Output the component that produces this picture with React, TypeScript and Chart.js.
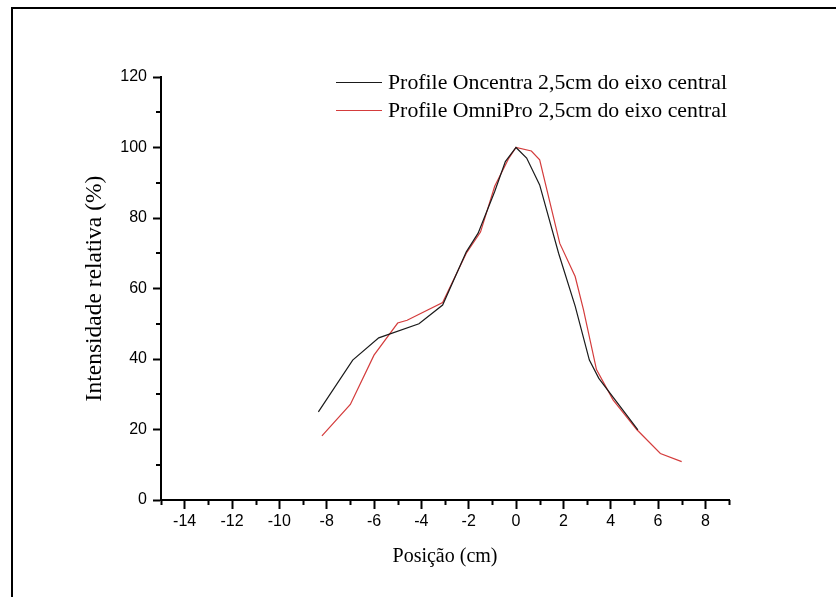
import { useEffect, useRef } from 'react';
import { Chart, registerables } from 'chart.js';

Chart.register(...registerables);

const seriesLabels = [
  'Profile Oncentra 2,5cm do eixo central',
  'Profile OmniPro 2,5cm do eixo central',
];
const oncentraX = [-8.35, -6.9, -5.8, -4.1, -3.1, -2.1, -1.6, -0.9, -0.45, 0, 0.45, 1.0, 1.8, 2.5, 3.1, 3.5, 5.15];
const oncentraY = [25, 39.7, 46, 50, 55.3, 70.4, 75.7, 87.5, 96, 100, 97, 89.4, 70, 55, 39.7, 34.5, 19.9];
const omniProX = [-8.2, -7.0, -6.0, -5.0, -4.6, -3.1, -2.1, -1.5, -0.9, -0.3, 0, 0.65, 1.0, 1.85, 2.5, 2.85, 3.4, 4.1, 5.1, 6.1, 7.0];
const omniProY = [18.2, 27.1, 41.1, 50.2, 51, 56, 70, 76, 89, 97, 100, 99, 96.5, 72.8, 63.4, 54, 37, 28.4, 20, 13.2, 10.9];
const seriesColors = ['#1a1a1a', '#d43c3c'];

const xTicks = [-14, -12, -10, -8, -6, -4, -2, 0, 2, 4, 6, 8];
const xMinorTicks = [-15, -13, -11, -9, -7, -5, -3, -1, 1, 3, 5, 7, 9];
const yTicks = [0, 20, 40, 60, 80, 100, 120];
const yMinorTicks = [10, 30, 50, 70, 90, 110];

const xTitle = 'Posição (cm)';
const yTitle = 'Intensidade relativa (%)';

const minorTicksPlugin = {
  id: 'minorTicks',
  afterDraw(chart: any) {
    const { ctx } = chart;
    const xs = chart.scales.x;
    const ys = chart.scales.y;
    ctx.save();
    ctx.strokeStyle = '#000';
    ctx.lineWidth = 2;
    ctx.beginPath();
    xMinorTicks.forEach((v) => {
      const px = Math.round(xs.getPixelForValue(v)) + 0.5;
      ctx.moveTo(px, xs.top);
      ctx.lineTo(px, xs.top + 5);
    });
    yMinorTicks.forEach((v) => {
      const py = Math.round(ys.getPixelForValue(v));
      ctx.moveTo(ys.right - 5, py);
      ctx.lineTo(ys.right, py);
    });
    ctx.stroke();
    ctx.restore();
  },
};

const innerLegendPlugin = {
  id: 'innerLegend',
  afterDraw(chart: any) {
    const { ctx, chartArea } = chart;
    ctx.save();
    ctx.font = '21.8px "Liberation Serif", "Times New Roman", serif';
    ctx.textBaseline = 'middle';
    ctx.textAlign = 'left';
    const lineStart = chartArea.left + 175;
    const lineEnd = lineStart + 46;
    const textX = lineEnd + 6;
    chart.data.datasets.forEach((ds: any, i: number) => {
      const y = chartArea.top + 5 + i * 28;
      ctx.strokeStyle = ds.borderColor;
      ctx.lineWidth = 1.2;
      ctx.beginPath();
      ctx.moveTo(lineStart, y + 0.5);
      ctx.lineTo(lineEnd, y + 0.5);
      ctx.stroke();
      ctx.fillStyle = '#000';
      ctx.fillText(ds.label, textX, y + 1);
    });
    ctx.restore();
  },
};

export default function App() {
  const canvasRef = useRef<HTMLCanvasElement | null>(null);

  useEffect(() => {
    const canvas = canvasRef.current;
    if (!canvas) return;
    const tickFont = { family: '"Liberation Sans", Arial, sans-serif', size: 16 };
    const chart = new Chart(canvas, {
      type: 'line',
      data: {
        datasets: [
          {
            label: seriesLabels[0],
            data: oncentraX.map((x, i) => ({ x, y: oncentraY[i] })),
            borderColor: seriesColors[0],
            backgroundColor: seriesColors[0],
            borderWidth: 1.2,
            pointRadius: 0,
            tension: 0,
            fill: false,
          },
          {
            label: seriesLabels[1],
            data: omniProX.map((x, i) => ({ x, y: omniProY[i] })),
            borderColor: seriesColors[1],
            backgroundColor: seriesColors[1],
            borderWidth: 1.2,
            pointRadius: 0,
            tension: 0,
            fill: false,
          },
        ],
      },
      options: {
        responsive: false,
        animation: false,
        devicePixelRatio: 1,
        layout: { padding: { left: 0, top: 77, right: 107, bottom: 0 } },
        plugins: {
          legend: { display: false },
          tooltip: { enabled: false },
        },
        scales: {
          x: {
            type: 'linear',
            min: -15,
            max: 9,
            afterBuildTicks: (axis: any) => {
              axis.ticks = xTicks.map((v) => ({ value: v }));
            },
            afterFit: (scale: any) => {
              scale.height = 97;
            },
            ticks: {
              color: '#000',
              font: tickFont,
              padding: 2.5,
              maxRotation: 0,
              autoSkip: false,
              callback: (v: any) => String(v),
            },
            grid: {
              drawOnChartArea: false,
              drawTicks: true,
              tickLength: 9,
              tickColor: '#000',
              tickWidth: 2,
            },
            border: { display: true, color: '#000', width: 2 },
            title: {
              display: true,
              text: xTitle,
              color: '#000',
              font: { family: '"Liberation Serif", "Times New Roman", serif', size: 20 },
              padding: { top: 0, bottom: 28 },
            },
          },
          y: {
            type: 'linear',
            min: 0,
            max: 120,
            afterBuildTicks: (axis: any) => {
              axis.ticks = yTicks.map((v) => ({ value: v }));
            },
            afterFit: (scale: any) => {
              scale.width = 161;
            },
            ticks: {
              color: '#000',
              font: tickFont,
              padding: 6,
              autoSkip: false,
              callback: (v: any) => String(v),
            },
            grid: {
              drawOnChartArea: false,
              drawTicks: true,
              tickLength: 8,
              tickColor: '#000',
              tickWidth: 2,
            },
            border: { display: true, color: '#000', width: 2 },
            title: {
              display: true,
              text: yTitle,
              color: '#000',
              font: { family: '"Liberation Serif", "Times New Roman", serif', size: 23.5 },
              padding: { top: 81, bottom: 0 },
            },
          },
        },
      },
      plugins: [minorTicksPlugin, innerLegendPlugin],
    } as any);
    return () => chart.destroy();
  }, []);

  return (
    <div style={{ position: 'absolute', left: 0, top: 0, width: 836, height: 597, background: '#fff', overflow: 'hidden' }}>
      <canvas ref={canvasRef} width={836} height={597} style={{ position: 'absolute', left: 0, top: 0, width: 836, height: 597 }} />
      <div
        style={{
          position: 'absolute',
          left: 11,
          top: 7,
          width: 836,
          height: 600,
          borderLeft: '2px solid #000',
          borderTop: '2px solid #000',
          pointerEvents: 'none',
        }}
      />
    </div>
  );
}
